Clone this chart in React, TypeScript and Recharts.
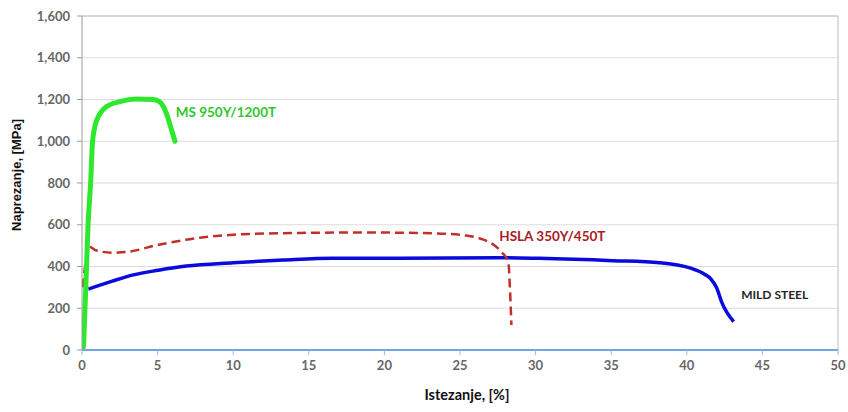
import React from "react";
import {
  CartesianGrid,
  Label,
  Line,
  LineChart,
  ReferenceDot,
  ReferenceLine,
  XAxis,
  YAxis
} from "recharts";

// tensile curves: strain [%] -> stress [MPa]
const msSteel = [
  { x: 0.1, y: 15 },
  { x: 0.25, y: 300 },
  { x: 0.4, y: 600 },
  { x: 0.57, y: 800 },
  { x: 0.7, y: 1000 },
  { x: 0.97, y: 1100 },
  { x: 1.6, y: 1165 },
  { x: 2.5, y: 1190 },
  { x: 3.6, y: 1202 },
  { x: 4.7, y: 1200 },
  { x: 5.15, y: 1188 },
  { x: 5.6, y: 1130 },
  { x: 5.9, y: 1060 },
  { x: 6.15, y: 1000 }
];

const hslaSteel = [
  { x: 0.05, y: 300 },
  { x: 0.2, y: 400 },
  { x: 0.48, y: 495 },
  { x: 0.9, y: 478 },
  { x: 2.0, y: 466 },
  { x: 3.0, y: 470 },
  { x: 5.0, y: 503 },
  { x: 7.8, y: 538 },
  { x: 10, y: 552 },
  { x: 14.4, y: 561 },
  { x: 18.8, y: 563 },
  { x: 23.2, y: 559 },
  { x: 25.4, y: 548 },
  { x: 26.5, y: 530 },
  { x: 27.2, y: 505 },
  { x: 27.8, y: 465 },
  { x: 28.2, y: 420 },
  { x: 28.3, y: 300 },
  { x: 28.4, y: 120 }
];

const mildSteel = [
  { x: 0.42, y: 292 },
  { x: 2, y: 330 },
  { x: 3.4, y: 360 },
  { x: 5.05, y: 382 },
  { x: 6.9, y: 402 },
  { x: 10, y: 418 },
  { x: 13.3, y: 431 },
  { x: 16.6, y: 440 },
  { x: 21, y: 439 },
  { x: 27.6, y: 442 },
  { x: 30.2, y: 439 },
  { x: 35.1, y: 428 },
  { x: 38.2, y: 418 },
  { x: 40.2, y: 393 },
  { x: 41.2, y: 362 },
  { x: 41.6, y: 340 },
  { x: 41.98, y: 297 },
  { x: 42.3, y: 231 },
  { x: 43.1, y: 136 }
];

const xTicks = [0, 5, 10, 15, 20, 25, 30, 35, 40, 45, 50];
const yTicks = [0, 200, 400, 600, 800, 1000, 1200, 1400, 1600];

const seriesLabels = [
  { name: "MS 950Y/1200T", x: 6.2, y: 1140, color: "#2fc72f", size: 13.5 },
  { name: "HSLA 350Y/450T", x: 27.6, y: 546, color: "#a8201f", size: 13.5 },
  { name: "MILD STEEL", x: 43.6, y: 263, color: "#262626", size: 12 }
];

const font = "Lato, 'Open Sans', sans-serif";
const tickStyle = { fill: "#666666", fontSize: 13, fontWeight: 700, fontFamily: font };

export default function App() {
  return (
    <div style={{ position: "absolute", left: 0, top: 0, background: "#fff" }}>
      <LineChart width={848} height={412} margin={{ top: 16, right: 10, bottom: 0, left: 0 }}>
        <CartesianGrid vertical={false} stroke="#dcdcdc" />
        <XAxis
          type="number"
          dataKey="x"
          domain={[0, 50]}
          ticks={xTicks}
          allowDataOverflow
          height={62}
          tickSize={5}
          tickMargin={6}
          tick={tickStyle}
          axisLine={{ stroke: "#6fa8dc", strokeWidth: 2 }}
          tickLine={{ stroke: "#9db8d2" }}
        >
          <Label
            content={() => (
              <text
                x={467}
                y={396}
                textAnchor="middle"
                dominantBaseline="middle"
                style={{ fill: "#111", fontSize: 14.5, fontWeight: 700, fontFamily: font }}
              >
                Istezanje, [%]
              </text>
            )}
          />
        </XAxis>
        <YAxis
          type="number"
          dataKey="y"
          domain={[0, 1600]}
          ticks={yTicks}
          width={82}
          tickSize={5}
          tickMargin={7}
          tick={tickStyle}
          tickFormatter={(v) => Number(v).toLocaleString("en-US")}
          axisLine={{ stroke: "#9a9a9a" }}
          tickLine={{ stroke: "#9a9a9a" }}
        >
          <Label
            content={() => (
              <text
                x={18}
                y={175}
                transform="rotate(-90 18 175)"
                textAnchor="middle"
                dominantBaseline="middle"
                style={{ fill: "#111", fontSize: 13, fontWeight: 700, fontFamily: "'Liberation Sans', Arial, sans-serif" }}
              >
                Naprezanje, [MPa]
              </text>
            )}
          />
        </YAxis>
        <ReferenceLine x={50} stroke="#bfbfbf" ifOverflow="extendDomain" />
        <ReferenceLine y={1600} stroke="#bfbfbf" />
        <Line
          data={mildSteel}
          dataKey="y"
          type="monotone"
          stroke="#0a0adc"
          strokeWidth={3.5}
          dot={false}
          isAnimationActive={false}
        />
        <Line
          data={hslaSteel}
          dataKey="y"
          type="monotone"
          stroke="#c0302b"
          strokeWidth={2.5}
          strokeDasharray="9 5"
          dot={false}
          isAnimationActive={false}
        />
        <Line
          data={msSteel}
          dataKey="y"
          type="monotone"
          stroke="#2ee82e"
          strokeWidth={5}
          strokeLinecap="round"
          dot={false}
          isAnimationActive={false}
        />
        {seriesLabels.map((s) => (
          <ReferenceDot
            key={s.name}
            x={s.x}
            y={s.y}
            r={0}
            fill="none"
            stroke="none"
            label={{
              value: s.name,
              position: "right",
              offset: 0,
              style: { fill: s.color, fontSize: s.size, fontWeight: 700, fontFamily: font }
            }}
          />
        ))}
      </LineChart>
    </div>
  );
}
